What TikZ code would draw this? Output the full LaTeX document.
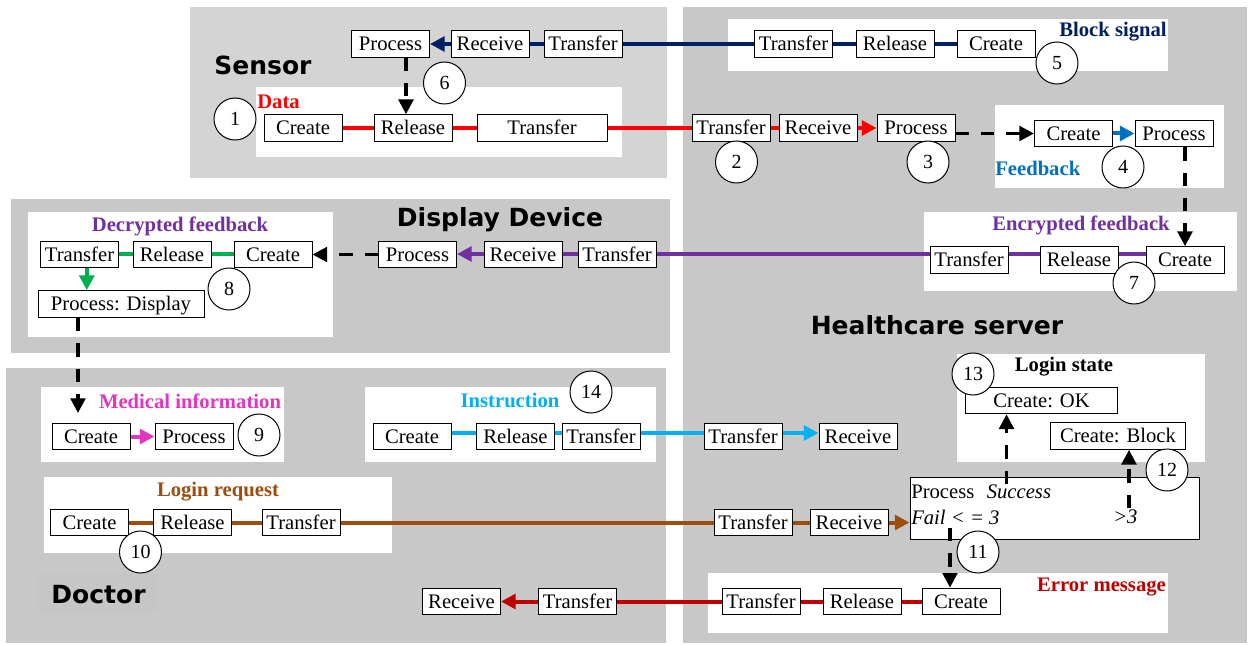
\documentclass[tikz,border=0pt]{standalone}
\usepackage{fontspec}
\setmainfont{Liberation Serif}
\newfontfamily\titlefont{DejaVu Sans}
\usetikzlibrary{arrows.meta}
\definecolor{sensorbg}{RGB}{212,212,212}
\definecolor{regbg}{RGB}{200,200,200}
\definecolor{docbg}{RGB}{198,198,198}
\definecolor{navyc}{RGB}{0,32,96}
\definecolor{redc}{RGB}{255,0,0}
\definecolor{fbc}{RGB}{0,112,192}
\definecolor{purc}{RGB}{112,48,160}
\definecolor{grnc}{RGB}{0,176,80}
\definecolor{magc}{RGB}{225,55,190}
\definecolor{cyac}{RGB}{0,176,240}
\definecolor{brnc}{RGB}{156,78,14}
\definecolor{drc}{RGB}{192,0,0}
\tikzset{
  bx/.style={draw=black, line width=0.75pt, fill=white, minimum width=58.5pt,
    minimum height=20pt, inner sep=0pt, text height=12pt, text depth=1.8pt,
    font=\fontsize{15.5}{17}\selectfont},
  num/.style={circle, draw=black, line width=0.75pt, fill=white, minimum size=31.5pt,
    inner sep=0pt, font=\fontsize{15}{17}\selectfont},
  lbl/.style={font=\fontsize{15.5}{17}\selectfont\bfseries, inner sep=0pt},
  ttl/.style={font=\titlefont\bfseries\fontsize{18.75}{22}\selectfont, inner sep=0pt},
  txt/.style={font=\fontsize{15.5}{17}\selectfont, inner sep=0pt, anchor=west},
  flow/.style={line width=3pt},
  tip/.style={-{Triangle[length=11pt,width=11pt]}},
  dsh/.style={line width=2.4pt, dash pattern=on 10pt off 9pt, -{Triangle[length=11pt,width=11pt]}},
  panel/.style={fill=white}
}
\begin{document}
\begin{tikzpicture}[x=0.75pt,y=-0.75pt]
\useasboundingbox (0,0) rectangle (1249,645);
% regions
\fill[sensorbg] (190,7) rectangle (667,178);
\fill[regbg] (683,7) rectangle (1247,643);
\fill[regbg] (11,199) rectangle (670,353);
\fill[regbg] (6,368) rectangle (666,643);
\fill[docbg] (38,573) rectangle (158,613);
% panels
\fill[panel] (728,19) rectangle (1168,71);
\fill[panel] (256,87) rectangle (622,157);
\fill[panel] (995,105) rectangle (1224,188);
\fill[panel] (924,212) rectangle (1237,291);
\fill[panel] (28,212) rectangle (333,337);
\fill[panel] (41,387) rectangle (284,462);
\fill[panel] (365,387) rectangle (656,462);
\fill[panel] (44,477) rectangle (392,553);
\fill[panel] (957,354) rectangle (1205,462);
\fill[panel] (708,573) rectangle (1168,633);
% titles
\node[ttl] (tsensor) at (263,65) {Sensor};
\node[ttl] (tdisp) at (500,220) {Display Device};
\node[ttl] (thc) at (937,325) {Healthcare server};
\node[ttl] (tdoc) at (98.5,595) {Doctor};
% top row (block signal)
\node[bx] (s_proc) at (390.5,44) {Process};
\node[bx] (s_recv) at (490,44) {Receive};
\node[bx] (s_trans) at (583,44) {Transfer};
\node[bx] (h_btrans) at (793.5,44) {Transfer};
\node[bx] (h_brel) at (895,44) {Release};
\node[bx] (h_bcreate) at (996,44) {Create};
% data row
\node[bx] (d_create) at (303,128) {Create};
\node[bx] (d_rel) at (413,128) {Release};
\node[bx, minimum width=97.5pt] (d_trans) at (542,128) {Transfer};
\node[bx] (h_dtrans) at (731,128) {Transfer};
\node[bx] (h_drecv) at (818,128) {Receive};
\node[bx] (h_dproc) at (916,128) {Process};
% feedback
\node[bx] (f_create) at (1073.5,133.5) {Create};
\node[bx] (f_proc) at (1174,133.5) {Process};
% encrypted
\node[bx] (e_trans) at (969,260) {Transfer};
\node[bx] (e_rel) at (1079,260) {Release};
\node[bx] (e_create) at (1185,260) {Create};
% display
\node[bx] (dd_proc) at (417.5,254.5) {Process};
\node[bx] (dd_recv) at (523,254.5) {Receive};
\node[bx] (dd_trans) at (617,254.5) {Transfer};
\node[bx] (df_trans) at (79.5,254.5) {Transfer};
\node[bx] (df_rel) at (172,254.5) {Release};
\node[bx] (df_create) at (273,254.5) {Create};
\node[bx, minimum width=124.5pt] (df_disp) at (121,304) {Process: Display};
% medical
\node[bx] (m_create) at (91,436.5) {Create};
\node[bx] (m_proc) at (194,436.5) {Process};
% instruction
\node[bx] (i_create) at (412,436.5) {Create};
\node[bx] (i_rel) at (515.5,436.5) {Release};
\node[bx] (i_trans) at (601,436.5) {Transfer};
\node[bx] (h_itrans) at (743,436.5) {Transfer};
\node[bx] (h_irecv) at (858,436.5) {Receive};
% login
\node[bx] (l_create) at (89.5,522.5) {Create};
\node[bx] (l_rel) at (192.5,522.5) {Release};
\node[bx] (l_trans) at (301,522.5) {Transfer};
\node[bx] (h_ltrans) at (753,522.5) {Transfer};
\node[bx] (h_lrecv) at (849,522.5) {Receive};
\node[draw=black, line width=0.75pt, fill=white, minimum width=216.75pt, minimum height=46.5pt, inner sep=0pt] (pbig) at (1054.5,508) {};
\node[txt] (pt1) at (911,492) {Process};
\node[txt] (pt2) at (986.5,492) {\itshape Success};
\node[txt] (pt3) at (911,517) {\itshape Fail < = 3};
\node[txt] (pt4) at (1113,517) {\itshape >3};
% login state
\node[bx, minimum width=114pt] (ok) at (1041.5,400.5) {Create: OK};
\node[bx, minimum width=101.6pt] (block) at (1118,436) {Create: Block};
% error
\node[bx] (er_trans) at (761,601.5) {Transfer};
\node[bx] (er_rel) at (862,601.5) {Release};
\node[bx] (er_create) at (961,601.5) {Create};
\node[bx] (dr_trans) at (577.5,601.5) {Transfer};
\node[bx] (dr_recv) at (461.5,601.5) {Receive};
% helper coordinates
\coordinate (c6) at (406,0);
\coordinate (py) at (0,254);
\coordinate (iy) at (0,433);
\coordinate (a9) at (78,413);
\coordinate (c13a) at (1006.5,484);
\coordinate (c12a) at (1129,508);
\coordinate (c11a) at (950,528);
% connectors: block signal
\draw[navyc,flow] (h_bcreate.west) -- (h_brel.east);
\draw[navyc,flow] (h_brel.west) -- (h_btrans.east);
\draw[navyc,flow] (h_btrans.west) -- (s_trans.east);
\draw[navyc,flow] (s_trans.west) -- (s_recv.east);
\draw[navyc,flow,tip] (s_recv.west) -- (s_proc.east);
\draw[dsh] (s_proc.south -| c6) -- (d_rel.north -| c6);
% data
\draw[redc,flow] (d_create.east) -- (d_rel.west);
\draw[redc,flow] (d_rel.east) -- (d_trans.west);
\draw[redc,flow] (d_trans.east) -- (h_dtrans.west);
\draw[redc,flow] (h_dtrans.east) -- (h_drecv.west);
\draw[redc,flow,tip] (h_drecv.east) -- (h_dproc.west);
\draw[dsh] (h_dproc.east |- f_create.west) -- (f_create.west);
% feedback
\draw[fbc,flow,tip] (f_create.east) -- (f_proc.west);
\draw[dsh] (f_proc.south -| e_create.north) -- (e_create.north);
% encrypted / display
\draw[purc,flow] (e_create.west |- py) -- (e_rel.east |- py);
\draw[purc,flow] (e_rel.west |- py) -- (e_trans.east |- py);
\draw[purc,flow] (e_trans.west |- py) -- (dd_trans.east |- py);
\draw[purc,flow] (dd_trans.west |- py) -- (dd_recv.east |- py);
\draw[purc,flow,tip] (dd_recv.west |- py) -- (dd_proc.east |- py);
\draw[dsh] (dd_proc.west) -- (df_create.east);
\draw[grnc,flow] (df_create.west) -- (df_rel.east);
\draw[grnc,flow] (df_rel.west) -- (df_trans.east);
\draw[grnc,flow,tip] ([xshift=5.5pt]df_trans.south) -- ([xshift=5.5pt]df_trans.south |- df_disp.north);
\draw[dsh] (df_disp.south -| a9) -- (a9);
% medical
\draw[magc,flow,tip] (m_create.east) -- (m_proc.west);
% instruction
\draw[cyac,flow] (i_create.east |- iy) -- (i_rel.west |- iy);
\draw[cyac,flow] (i_rel.east |- iy) -- (i_trans.west |- iy);
\draw[cyac,flow] (i_trans.east |- iy) -- (h_itrans.west |- iy);
\draw[cyac,flow,tip] (h_itrans.east |- iy) -- (h_irecv.west |- iy);
% login
\draw[brnc,flow] (l_create.east) -- (l_rel.west);
\draw[brnc,flow] (l_rel.east) -- (l_trans.west);
\draw[brnc,flow] (l_trans.east) -- (h_ltrans.west);
\draw[brnc,flow] (h_ltrans.east) -- (h_lrecv.west);
\draw[brnc,flow,tip] (h_lrecv.east) -- (h_lrecv.east -| pbig.west);
\draw[dsh] (c13a) -- (c13a |- ok.south);
\draw[dsh] (c12a) -- (c12a |- block.south);
\draw[dsh] (c11a) -- (c11a |- er_create.north);
% error
\draw[drc,flow] (er_create.west) -- (er_rel.east);
\draw[drc,flow] (er_rel.west) -- (er_trans.east);
\draw[drc,flow] (er_trans.west) -- (dr_trans.east);
\draw[drc,flow,tip] (dr_trans.west) -- (dr_recv.east);
% labels
\node[lbl, text=redc, anchor=west] (ldata) at (257,102) {Data};
\node[lbl, text=navyc] (lblock) at (1113,32) {Block signal};
\node[lbl, text=fbc, anchor=west] (lfb) at (995,168) {Feedback};
\node[lbl, text=purc] (lenc) at (1081,225) {Encrypted feedback};
\node[lbl, text=purc] (ldec) at (180,226) {Decrypted feedback};
\node[lbl, text=magc] (lmed) at (190,401) {Medical information};
\node[lbl, text=cyac] (lins) at (510,400) {Instruction};
\node[lbl, text=brnc] (llog) at (218,492) {Login request};
\node[lbl] (lstate) at (1064,367) {Login state};
\node[lbl, text=drc] (lerr) at (1101.5,587) {Error message};
% numbers
\node[num] (n1) at (235,119) {1};
\node[num] (n2) at (736.5,162) {2};
\node[num] (n3) at (928,162) {3};
\node[num] (n4) at (1123,167) {4};
\node[num] (n5) at (1057,63) {5};
\node[num] (n6) at (444.5,83) {6};
\node[num] (n7) at (1134,283) {7};
\node[num] (n8) at (229,289) {8};
\node[num] (n9) at (259,435) {9};
\node[num] (n10) at (140.5,552) {10};
\node[num] (n11) at (978,552) {11};
\node[num] (n12) at (1167,470) {12};
\node[num] (n13) at (973,374) {13};
\node[num] (n14) at (591,392) {14};
\end{tikzpicture}
\end{document}
